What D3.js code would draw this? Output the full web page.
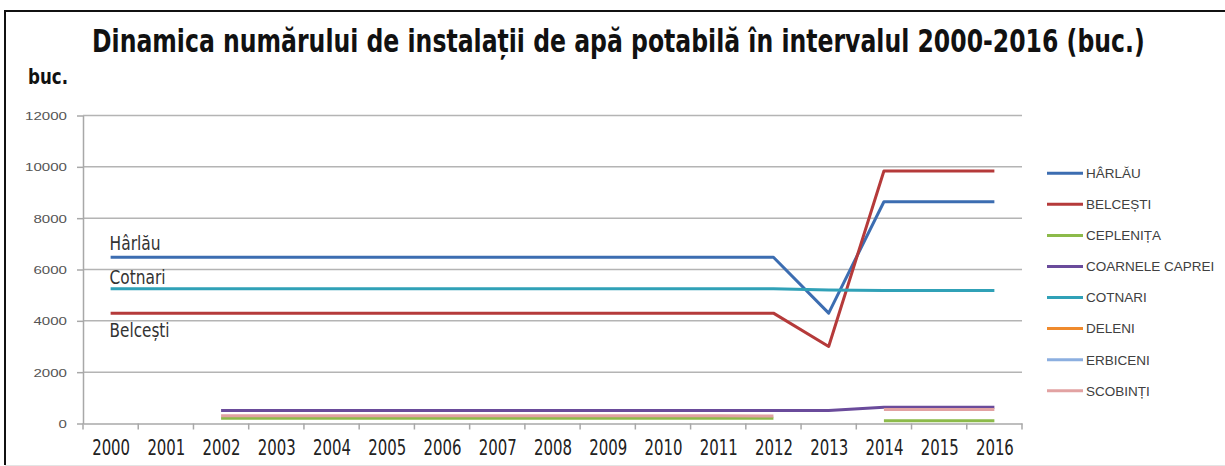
<!DOCTYPE html>
<html>
<head>
<meta charset="utf-8">
<script src="https://cdn.jsdelivr.net/npm/d3@7"></script>
<style>
  html, body { margin: 0; padding: 0; background: #fff; }
  svg { display: block; }
</style>
</head>
<body>
<svg id="chart" width="1225" height="466"></svg>
<script>
const years = ["2000","2001","2002","2003","2004","2005","2006","2007","2008","2009","2010","2011","2012","2013","2014","2015","2016"];
const yTicks = [0, 2000, 4000, 6000, 8000, 10000, 12000];

const seriesNames = ["HÂRLĂU","BELCEȘTI","CEPLENIȚA","COARNELE CAPREI","COTNARI","DELENI","ERBICENI","SCOBINȚI"];
const seriesColors = ["#3c6db1","#b53a3a","#8cba4a","#6a4b9b","#30a1b7","#ef8a2d","#8cafe0","#e2a2a2"];

const harlau    = [6480,6480,6480,6480,6480,6480,6480,6480,6480,6480,6480,6480,6480,4300,8640,8640,8640];
const belcesti  = [4300,4300,4300,4300,4300,4300,4300,4300,4300,4300,4300,4300,4300,3000,9840,9840,9840];
const ceplenita = [null,null,200,200,200,200,200,200,200,200,200,200,200,null,110,110,110];
const coarnele  = [null,null,510,510,510,510,510,510,510,510,510,510,510,510,630,630,630];
const cotnari   = [5250,5250,5250,5250,5250,5250,5250,5250,5250,5250,5250,5250,5250,5200,5180,5180,5180];
const deleni    = [null,null,null,null,null,null,null,null,null,null,null,null,null,null,null,null,null];
const erbiceni  = [null,null,null,null,null,null,null,null,null,null,null,null,null,null,null,null,null];
const scobinti  = [null,null,300,300,300,300,300,300,300,300,300,300,290,null,550,550,550];

const allSeries = [harlau, belcesti, ceplenita, coarnele, cotnari, deleni, erbiceni, scobinti];

const annotations = [
  { text: "Hârlău", value: 6480, dy: -7, w: 51 },
  { text: "Cotnari", value: 5250, dy: -5, w: 56 },
  { text: "Belcești", value: 4300, dy: 24, w: 60 }
];

const titleText = "Dinamica numărului de instalații de apă potabilă în intervalul 2000-2016 (buc.)";
const unitText = "buc.";

// ---------------- drawing ----------------
const svg = d3.select("#chart");
const plotLeft = 83, plotRight = 1022, plotTop = 115.5, plotBottom = 423.5;

const xBand = d3.scaleBand().domain(years).range([plotLeft, plotRight]).padding(0);
const x = d3.scalePoint().domain(years).range([plotLeft, plotRight]).padding(0.5);
const y = d3.scaleLinear().domain([0, 12000]).range([plotBottom, plotTop]);

const narrow = "'DejaVu Sans Condensed', 'Liberation Sans', sans-serif";

// horizontally squeeze a text element to a target width, anchored at (ax, ay)
function fitWidth(node, target, ax) {
  const w = node.getComputedTextLength();
  if (!w) return;
  const s = target / w;
  node.setAttribute("transform", `translate(${ax},0) scale(${s},1) translate(${-ax},0)`);
}

// frame
svg.append("line").attr("x1", 5).attr("x2", 1225).attr("y1", 11).attr("y2", 11)
  .attr("stroke", "#111").attr("stroke-width", 2);
svg.append("line").attr("x1", 5).attr("x2", 5).attr("y1", 10).attr("y2", 465)
  .attr("stroke", "#111").attr("stroke-width", 2);
svg.append("line").attr("x1", 5).attr("x2", 1225).attr("y1", 465.5).attr("y2", 465.5)
  .attr("stroke", "#e4e4e4").attr("stroke-width", 1);

// title
const title = svg.append("text").attr("x", 92).attr("y", 52)
  .attr("font-family", narrow).attr("font-weight", "bold").attr("font-size", 32)
  .attr("fill", "#111")
  .text(titleText);
fitWidth(title.node(), 1053, 92);

const unit = svg.append("text").attr("x", 28).attr("y", 84)
  .attr("font-family", narrow).attr("font-weight", "bold").attr("font-size", 22)
  .attr("fill", "#111")
  .text(unitText);
fitWidth(unit.node(), 40, 28);

// gridlines
svg.append("g").selectAll("line").data(yTicks.filter(d => d > 0)).join("line")
  .attr("x1", plotLeft).attr("x2", plotRight)
  .attr("y1", d => y(d)).attr("y2", d => y(d))
  .attr("stroke", "#b4b4b4").attr("stroke-width", 1.5);

// y axis
const yAxis = svg.append("g").attr("transform", `translate(${plotLeft},0)`)
  .call(d3.axisLeft(y).tickValues(yTicks).tickSize(6).tickSizeOuter(0).tickFormat(d3.format("d")));
yAxis.select(".domain").attr("stroke", "#a8a8a8").attr("stroke-width", 1.5);
yAxis.selectAll(".tick line").attr("stroke", "#a8a8a8").attr("stroke-width", 1.5);
yAxis.selectAll(".tick text")
  .attr("x", -16).attr("dy", "0.36em")
  .attr("font-family", "'Liberation Sans', Arial, sans-serif").attr("font-size", 11.5)
  .attr("fill", "#555")
  .each(function(d) { fitWidth(this, String(d).length * 8.4, -16); });

// x axis
const xAxis = svg.append("g").attr("transform", `translate(0,${plotBottom})`)
  .call(d3.axisBottom(x).tickSize(0).tickSizeOuter(0));
xAxis.select(".domain").attr("stroke", "#a8a8a8").attr("stroke-width", 1.5);
xAxis.selectAll(".tick text")
  .attr("y", 32).attr("dy", 0)
  .attr("font-family", narrow).attr("font-size", 21)
  .attr("fill", "#222")
  .each(function() { fitWidth(this, 38, 0); });
// category boundary tick marks
const boundaries = years.map(d => xBand(d)).concat([plotRight]);
svg.append("g").selectAll("line").data(boundaries).join("line")
  .attr("x1", d => d).attr("x2", d => d)
  .attr("y1", plotBottom).attr("y2", plotBottom + 6)
  .attr("stroke", "#a8a8a8").attr("stroke-width", 1.5);

// lines
const line = d3.line()
  .defined(d => d.v != null)
  .x(d => x(d.year))
  .y(d => y(d.v));

allSeries.forEach((vals, i) => {
  const pts = years.map((yr, j) => ({ year: yr, v: vals[j] }));
  svg.append("path")
    .datum(pts)
    .attr("fill", "none")
    .attr("stroke", seriesColors[i])
    .attr("stroke-width", 3)
    .attr("stroke-linejoin", "round")
    .attr("d", line);
});

// annotations
annotations.forEach(a => {
  const ax = x(years[0]) - 1;
  const t = svg.append("text")
    .attr("x", ax)
    .attr("y", y(a.value) + a.dy)
    .attr("font-family", narrow).attr("font-size", 20)
    .attr("fill", "#333")
    .text(a.text);
  fitWidth(t.node(), a.w, ax);
});

// legend
const lg = svg.append("g");
seriesNames.forEach((name, i) => {
  const cy = 173.3 + i * 31.06;
  lg.append("line").attr("x1", 1047).attr("x2", 1083).attr("y1", cy).attr("y2", cy)
    .attr("stroke", seriesColors[i]).attr("stroke-width", 3);
  lg.append("text").attr("x", 1086).attr("y", cy).attr("dy", "0.36em")
    .attr("font-family", "'Liberation Sans', Arial, sans-serif").attr("font-size", 13.5)
    .attr("fill", "#404040")
    .text(name);
});
</script>
</body>
</html>
